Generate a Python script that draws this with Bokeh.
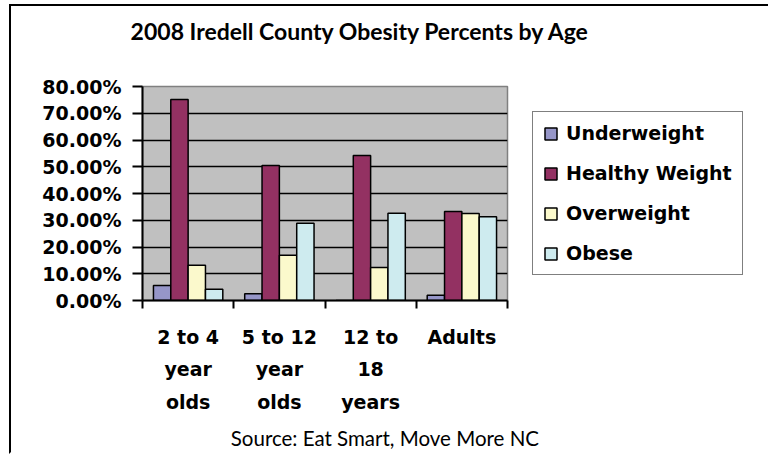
import numpy as np
from bokeh.plotting import figure
from bokeh.models import (ColumnDataSource, Range1d, FixedTicker, LinearAxis,
                          NumeralTickFormatter, Legend, LegendItem, Label)
from bokeh.embed import file_html
from bokeh.resources import INLINE

# ---- data ----
categories = ["2 to 4\nyear\nolds", "5 to 12\nyear\nolds", "12 to\n18\nyears", "Adults"]
series_names = ["Underweight", "Healthy Weight", "Overweight", "Obese"]
underweight = [0.056, 0.025, 0.0, 0.020]
healthy_weight = [0.751, 0.505, 0.542, 0.333]
overweight = [0.132, 0.169, 0.123, 0.325]
obese = [0.042, 0.289, 0.326, 0.313]
y_ticks = [0.0, 0.1, 0.2, 0.3, 0.4, 0.5, 0.6, 0.7, 0.8]

series_values = [underweight, healthy_weight, overweight, obese]
colors = ["#9696C8", "#933162", "#FBF9CC", "#CEEBEF"]
offsets = [-0.285, -0.095, 0.095, 0.285]
bar_w = 0.19

FONT = "DejaVu Sans"

p = figure(frame_width=365, frame_height=214, output_backend="svg", toolbar_location=None,
           x_range=Range1d(0, len(categories)), y_range=Range1d(0, 0.8),
           min_border_left=131, min_border_top=80, min_border_right=256,
           min_border_bottom=152, x_axis_location=None, y_axis_location=None)
p.styles = {"border-left": "2px solid black", "border-right": "2px solid black",
            "border-top": "2px solid black", "border-bottom": "2px solid white",
            "margin-left": "9px", "margin-top": "4px"}
p.background_fill_color = "#C0C0C0"
p.border_fill_color = "white"
p.outline_line_color = "#808080"
p.outline_line_width = 1.5

centers = np.arange(len(categories)) + 0.5
renderers = []
for name, vals, col, off in zip(series_names, series_values, colors, offsets):
    src = ColumnDataSource(dict(x=centers + off, top=vals))
    r = p.vbar(x="x", top="top", width=bar_w, bottom=0, source=src,
               fill_color=col, line_color="black", line_width=1.5)
    renderers.append(r)

yax = LinearAxis(ticker=FixedTicker(ticks=y_ticks),
                 formatter=NumeralTickFormatter(format="0.00%"))
yax.axis_line_color = "black"
yax.axis_line_width = 2
yax.major_tick_line_color = "black"
yax.major_tick_line_width = 2
yax.major_tick_out = 10
yax.major_tick_in = 0
yax.minor_tick_line_color = None
yax.major_label_standoff = 11
yax.major_label_text_font = FONT
yax.major_label_text_font_style = "bold"
yax.major_label_text_font_size = "19px"
yax.major_label_text_color = "black"
p.add_layout(yax, "left")

xax = LinearAxis(ticker=FixedTicker(ticks=list(centers), minor_ticks=list(range(len(categories) + 1))))
xax.major_label_overrides = {float(c): lab for c, lab in zip(centers, categories)}
xax.axis_line_color = "black"
xax.axis_line_width = 2
xax.major_tick_line_color = None
xax.major_tick_out = 0
xax.major_tick_in = 0
xax.minor_tick_line_color = "black"
xax.minor_tick_line_width = 2
xax.minor_tick_out = 8
xax.minor_tick_in = 0
xax.major_label_standoff = 17
xax.major_label_text_font = FONT
xax.major_label_text_font_style = "bold"
xax.major_label_text_font_size = "19px"
xax.major_label_text_color = "black"
xax.major_label_text_line_height = 1.48
p.add_layout(xax, "below")

p.xgrid.grid_line_color = None
p.ygrid.ticker = FixedTicker(ticks=y_ticks[1:-1])
p.ygrid.grid_line_color = "black"
p.ygrid.grid_line_width = 1.5

legend = Legend(items=[LegendItem(label=n, renderers=[r]) for n, r in zip(series_names, renderers)],
                location="top_left", margin=25, padding=10, spacing=18,
                glyph_width=15, glyph_height=15, label_height=20, label_standoff=8,
                border_line_color="black", border_line_width=1.5,
                label_text_font=FONT, label_text_font_style="bold",
                label_text_font_size="19px", label_text_color="black")
p.add_layout(legend, "right")

title = Label(x=347, y=22, x_units="canvas", y_units="canvas",
              text="2008 Iredell County Obesity Percents by Age",
              text_align="center", text_baseline="middle",
              text_font="Lato", text_font_style="bold", text_font_size="23px",
              text_color="black")
p.add_layout(title, "above")
source = Label(x=374, y=429, x_units="canvas", y_units="canvas",
               text="Source:  Eat Smart, Move More NC",
               text_align="center", text_baseline="middle",
               text_font="Lato", text_font_size="20.5px", text_color="black")
p.add_layout(source, "below")

open("out.html", "w").write(file_html(p, INLINE))
